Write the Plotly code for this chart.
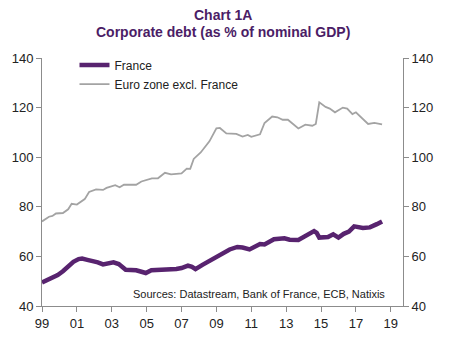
import plotly.graph_objects as go

france_x = [1999.0, 1999.3, 1999.6, 1999.9, 2000.2, 2000.5, 2000.8, 2001.1, 2001.3, 2001.6,
            2001.9, 2002.2, 2002.5, 2002.8, 2003.1, 2003.4, 2003.8, 2004.1, 2004.4, 2004.7,
            2004.95, 2005.27, 2005.6, 2006.0, 2006.3, 2006.7, 2007.0, 2007.37, 2007.6, 2007.8,
            2008.2, 2008.6, 2009.0, 2009.4, 2009.76, 2010.2, 2010.5, 2010.9, 2011.2, 2011.5,
            2011.76, 2012.0, 2012.3, 2012.9, 2013.2, 2013.7, 2014.0, 2014.3, 2014.6, 2014.75,
            2014.9, 2015.4, 2015.7, 2016.0, 2016.3, 2016.6, 2016.9, 2017.4, 2017.8, 2018.2, 2018.5]
france_y = [49.5, 50.5, 51.2, 52.5, 54.0, 56.0, 57.8, 58.9, 59.1, 58.6,
            58.3, 57.6, 56.8, 57.2, 57.6, 56.9, 54.6, 54.5, 54.4, 53.8,
            53.3, 54.4, 54.5, 54.6, 54.6, 54.9, 55.3, 56.3, 55.8, 54.9,
            56.6, 58.2, 59.8, 61.5, 62.8, 63.8, 63.6, 62.8, 64.0, 65.0,
            64.8, 65.8, 66.9, 67.3, 66.7, 66.6, 67.8, 69.1, 70.2, 69.5,
            67.6, 67.8, 68.9, 67.6, 69.1, 70.0, 72.1, 71.5, 71.7, 73.0, 74.1]

euro_x = [1999.0, 1999.2, 1999.4, 1999.6, 1999.8, 2000.2, 2000.5, 2000.7, 2001.0, 2001.45,
          2001.7, 2002.1, 2002.5, 2002.7, 2003.2, 2003.45, 2003.7, 2004.4, 2004.7, 2005.3,
          2005.65, 2006.05, 2006.4, 2007.0, 2007.3, 2007.5, 2007.7, 2008.1, 2008.6, 2009.0,
          2009.2, 2009.57, 2010.14, 2010.5, 2010.8, 2011.0, 2011.5, 2011.76, 2012.2, 2012.5,
          2012.8, 2013.1, 2013.7, 2014.1, 2014.5, 2014.7, 2014.9, 2015.26, 2015.5, 2015.8,
          2016.25, 2016.5, 2016.8, 2017.0, 2017.3, 2017.7, 2018.06, 2018.5]
euro_y = [74.1, 75.0, 76.0, 76.3, 77.3, 77.5, 79.0, 81.2, 80.9, 83.1,
          86.0, 87.0, 86.8, 87.6, 88.7, 87.9, 88.9, 88.9, 90.2, 91.5,
          91.5, 93.7, 93.1, 93.5, 95.4, 95.3, 99.3, 101.9, 106.4, 111.6,
          111.8, 109.6, 109.4, 108.3, 109.0, 108.2, 109.2, 113.8, 116.4, 116.1,
          115.1, 115.1, 111.6, 113.1, 112.7, 113.4, 122.1, 120.3, 119.6, 118.1,
          120.0, 119.6, 117.4, 118.1, 116.1, 113.4, 113.8, 113.2]

x_tickvals = list(range(1999, 2020, 2))
x_ticktext = ["99", "01", "03", "05", "07", "09", "11", "13", "15", "17", "19"]
y_tickvals = [40, 60, 80, 100, 120, 140]
title_lines = ["Chart 1A", "Corporate debt (as % of nominal GDP)"]
source_text = "Sources: Datastream, Bank of France, ECB, Natixis"

PURPLE = "#58236f"
GREY = "#a3a3a3"
AXIS = "#8c8c8c"
TITLE_C = "#4b1d66"
FONT = "Liberation Sans, Arial, sans-serif"

fig = go.Figure()
fig.add_trace(go.Scatter(x=france_x, y=france_y, name="France", mode="lines",
                         line=dict(color=PURPLE, width=4.5), yaxis="y"))
fig.add_trace(go.Scatter(x=euro_x, y=euro_y, name="Euro zone excl. France", mode="lines",
                         line=dict(color=GREY, width=1.8), yaxis="y2"))

axis_common = dict(showgrid=False, zeroline=False, showline=True, linecolor=AXIS, linewidth=1,
                   ticks="outside", ticklen=5, tickcolor=AXIS,
                   tickfont=dict(family=FONT, size=13, color="#222"))

fig.update_layout(
    width=452, height=343,
    margin=dict(l=42, r=49, t=58, b=27),
    paper_bgcolor="white", plot_bgcolor="white",
    xaxis=dict(range=[1999, 2019.7], tickvals=x_tickvals, ticktext=x_ticktext, **axis_common),
    yaxis=dict(range=[40, 140], tickvals=y_tickvals, side="left", **axis_common),
    yaxis2=dict(range=[40, 140], tickvals=y_tickvals, side="right", overlaying="y", **axis_common),
    legend=dict(x=0.09, y=1.03, xanchor="left", yanchor="top", bgcolor="rgba(0,0,0,0)",
                font=dict(family=FONT, size=12, color="#222"), tracegroupgap=0),
    annotations=[
        dict(text="<b>%s</b>" % title_lines[0], xref="paper", yref="paper", x=0.5, y=1.173,
             xanchor="center", yanchor="middle", showarrow=False,
             font=dict(family=FONT, size=14, color=TITLE_C)),
        dict(text="<b>%s</b>" % title_lines[1], xref="paper", yref="paper", x=0.5, y=1.103,
             xanchor="center", yanchor="middle", showarrow=False,
             font=dict(family=FONT, size=14, color=TITLE_C)),
        dict(text=source_text, xref="paper", yref="paper", x=0.955, y=0.05,
             xanchor="right", yanchor="middle", showarrow=False,
             font=dict(family=FONT, size=11, color="#222")),
    ],
)

fig.write_html("out.html")
